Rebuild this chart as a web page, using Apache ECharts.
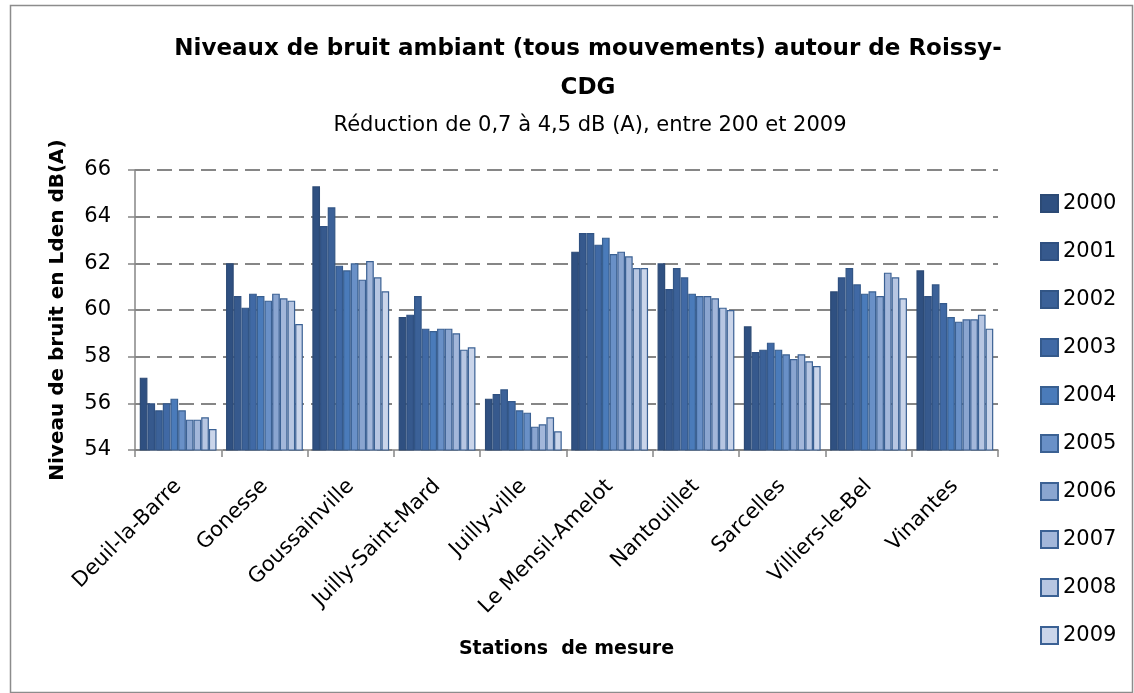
<!DOCTYPE html>
<html>
<head>
<meta charset="utf-8">
<script src="https://cdn.jsdelivr.net/npm/echarts@6/dist/echarts.min.js"></script>
<style>
  html, body { margin: 0; padding: 0; background: #fff; }
  #chart { width: 1134px; height: 693px; }
</style>
</head>
<body>
<div id="chart"></div>
<script>
// Measurement stations around Roissy-CDG
const stations = ['Deuil-la-Barre', 'Gonesse', 'Goussainville', 'Juilly-Saint-Mard', 'Juilly-ville',
  'Le Mensil-Amelot', 'Nantouillet', 'Sarcelles', 'Villiers-le-Bel', 'Vinantes'];
const years = ['2000', '2001', '2002', '2003', '2004', '2005', '2006', '2007', '2008', '2009'];

// Lden noise level in dB(A), one array per year, in station order
const y2000 = [57.1, 62.0, 65.3, 59.7, 56.2, 62.5, 62.0, 59.3, 60.8, 61.7];
const y2001 = [56.0, 60.6, 63.6, 59.8, 56.4, 63.3, 60.9, 58.2, 61.4, 60.6];
const y2002 = [55.7, 60.1, 64.4, 60.6, 56.6, 63.3, 61.8, 58.3, 61.8, 61.1];
const y2003 = [56.0, 60.7, 61.9, 59.2, 56.1, 62.8, 61.4, 58.6, 61.1, 60.3];
const y2004 = [56.2, 60.6, 61.7, 59.1, 55.7, 63.1, 60.7, 58.3, 60.7, 59.7];
const y2005 = [55.7, 60.4, 62.0, 59.2, 55.6, 62.4, 60.6, 58.1, 60.8, 59.5];
const y2006 = [55.3, 60.7, 61.3, 59.2, 55.0, 62.5, 60.6, 57.9, 60.6, 59.6];
const y2007 = [55.3, 60.5, 62.1, 59.0, 55.1, 62.3, 60.5, 58.1, 61.6, 59.6];
const y2008 = [55.4, 60.4, 61.4, 58.3, 55.4, 61.8, 60.1, 57.8, 61.4, 59.8];
const y2009 = [54.9, 59.4, 60.8, 58.4, 54.8, 61.8, 60.0, 57.6, 60.5, 59.2];
const yearValues = [y2000, y2001, y2002, y2003, y2004, y2005, y2006, y2007, y2008, y2009];

// Blue ramp from dark to pale
const fills = ['#2f5081', '#36598d', '#3b6198', '#4069a5', '#4a7bba', '#6990c7',
  '#8aa5d0', '#a3b7da', '#b7c6e2', '#cad5ea'];
const edges = ['#2c4a75', '#2f5081', '#325585', '#355a8c', '#385f90', '#3b6193',
  '#3c6194', '#3b6194', '#3b6194', '#3b6194'];

const FONT = '"DejaVu Sans", "Liberation Sans", sans-serif';
const chart = echarts.init(document.getElementById('chart'));

const series = years.map((y, i) => ({
  name: y,
  type: 'bar',
  data: yearValues[i],
  barGap: '0%',
  barCategoryGap: '11%',
  itemStyle: { color: fills[i], borderColor: edges[i], borderWidth: 1.2 }
}));

chart.setOption({
  animation: false,
  backgroundColor: '#fff',
  graphic: [{
    type: 'rect', left: 8, top: 3, z: -1,
    shape: { width: 1122, height: 687 },
    style: { fill: 'none', stroke: '#8c8c8c', lineWidth: 1.5 }
  }],
  title: [{
    text: 'Niveaux de bruit ambiant (tous mouvements) autour de Roissy-\nCDG',
    left: 583, top: 25, textAlign: 'center',
    textStyle: { fontFamily: FONT, fontSize: 23, fontWeight: 'bold', color: '#000', lineHeight: 39, align: 'center' }
  }, {
    text: 'Réduction de 0,7 à 4,5 dB (A), entre 200 et 2009',
    left: 585, top: 110, textAlign: 'center',
    textStyle: { fontFamily: FONT, fontSize: 21, fontWeight: 'normal', color: '#000' }
  }],
  legend: {
    orient: 'vertical',
    left: 1040, top: 193, padding: 0,
    itemWidth: 17, itemHeight: 17, itemGap: 27,
    icon: 'rect',
    textStyle: { fontFamily: FONT, fontSize: 21, color: '#000', padding: [0, 0, 0, 0] },
    data: years
  },
  grid: { left: 135, right: 136, top: 170, bottom: 243 },
  xAxis: {
    type: 'category',
    data: stations,
    name: 'Stations  de mesure',
    nameLocation: 'middle',
    nameGap: 190,
    nameTextStyle: { fontFamily: FONT, fontSize: 19, fontWeight: 'bold', color: '#000' },
    axisLine: { lineStyle: { color: '#868686', width: 1.5 } },
    axisTick: { show: true, length: 7, lineStyle: { color: '#868686', width: 1.5 } },
    axisLabel: { rotate: 45, fontFamily: FONT, fontSize: 21, color: '#000', margin: 33 }
  },
  yAxis: {
    type: 'value',
    min: 54, max: 66, interval: 2,
    name: 'Niveau de bruit en Lden dB(A)',
    nameLocation: 'middle',
    nameGap: 67,
    nameTextStyle: { fontFamily: FONT, fontSize: 20, fontWeight: 'bold', color: '#000' },
    axisLine: { show: true, lineStyle: { color: '#868686', width: 1.5 } },
    axisTick: { show: true, inside: false, length: 7, lineStyle: { color: '#868686', width: 1.5 } },
    axisLabel: { fontFamily: FONT, fontSize: 21, color: '#000', margin: 24 },
    splitLine: { lineStyle: { color: '#868686', width: 2, type: [15, 7] } }
  },
  series: series
});
</script>
</body>
</html>
